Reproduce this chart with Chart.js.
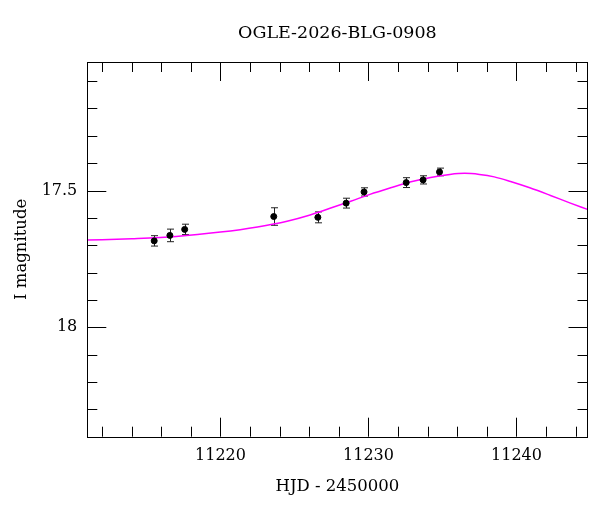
<!DOCTYPE html>
<html>
<head>
<meta charset="utf-8">
<script src="https://cdn.jsdelivr.net/npm/chart.js@4.4.1/dist/chart.umd.min.js"></script>
<style>
html, body { margin: 0; padding: 0; background: #fff; }
#wrap { width: 600px; height: 512px; }
</style>
</head>
<body>
<div id="wrap"><canvas id="lightcurve"></canvas></div>
<script>
// photometry (HJD - 2450000, I mag, 1-sigma error)
var hjd    = [11215.52, 11216.58, 11217.58, 11223.60, 11226.58, 11228.49, 11229.70, 11232.55, 11233.69, 11234.80];
var mag    = [17.684, 17.664, 17.642, 17.595, 17.598, 17.546, 17.505, 17.471, 17.461, 17.432];
var magErr = [0.019, 0.023, 0.019, 0.032, 0.020, 0.018, 0.015, 0.018, 0.015, 0.014];

// model curve, sampled by eye from the magenta line
var modelHjd = [11211.0, 11214.0, 11217.0, 11220.0, 11222.5, 11224.5, 11226.0, 11227.4, 11228.8,
                11230.1, 11231.5, 11232.8, 11234.2, 11235.5, 11236.5, 11237.5, 11238.5, 11239.6,
                11240.9, 11242.3, 11243.6, 11244.8];
var modelMag = [17.681, 17.676, 17.668, 17.652, 17.633, 17.612, 17.590, 17.565, 17.539,
                17.514, 17.490, 17.469, 17.452, 17.441, 17.437, 17.441, 17.450, 17.467,
                17.490, 17.518, 17.545, 17.569];

var xMajor = [11220, 11230, 11240];
var yMajor = [17.5, 18];
var xMinor = [];
for (var v = 11212; v <= 11244; v += 2) xMinor.push(v);
var yMinor = [];
for (var m = 17.1; m < 18.35; m += 0.1) yMinor.push(Math.round(m * 10) / 10);

var serif = "'DejaVu Serif', serif";

function isMajor(list, val) {
    for (var i = 0; i < list.length; i++) {
        if (Math.abs(list[i] - val) < 1e-6) return true;
    }
    return false;
}

var points = [];
for (var i = 0; i < hjd.length; i++) points.push({x: hjd[i], y: mag[i]});
var model = [];
for (var j = 0; j < modelHjd.length; j++) model.push({x: modelHjd[j], y: modelMag[j]});

var errorBars = {
    id: 'errorBars',
    beforeDatasetsDraw: function (chart) {
        var ctx = chart.ctx, x = chart.scales.x, y = chart.scales.y;
        ctx.save();
        ctx.strokeStyle = '#222';
        ctx.lineWidth = 1;
        ctx.beginPath();
        for (var i = 0; i < hjd.length; i++) {
            var px = Math.round(x.getPixelForValue(hjd[i])) + 0.5;
            var top = y.getPixelForValue(mag[i] - magErr[i]);
            var bot = y.getPixelForValue(mag[i] + magErr[i]);
            ctx.moveTo(px, top); ctx.lineTo(px, bot);
            ctx.moveTo(px - 3.5, top); ctx.lineTo(px + 3.5, top);
            ctx.moveTo(px - 3.5, bot); ctx.lineTo(px + 3.5, bot);
        }
        ctx.stroke();
        ctx.restore();
    }
};

var frameTicks = {
    id: 'frameTicks',
    afterDraw: function (chart) {
        var ctx = chart.ctx, a = chart.chartArea, x = chart.scales.x, y = chart.scales.y;
        ctx.save();
        ctx.strokeStyle = '#000';
        ctx.lineWidth = 1;
        ctx.strokeRect(Math.round(a.left) + 0.5, Math.round(a.top) + 0.5,
                       Math.round(a.right - a.left), Math.round(a.bottom - a.top));
        ctx.beginPath();
        x.ticks.forEach(function (t) {
            var px = Math.round(x.getPixelForValue(t.value)) + 0.5;
            var len = isMajor(xMajor, t.value) ? 19 : 10;
            ctx.moveTo(px, a.bottom); ctx.lineTo(px, a.bottom - len);
            ctx.moveTo(px, a.top); ctx.lineTo(px, a.top + len);
        });
        y.ticks.forEach(function (t) {
            var py = Math.round(y.getPixelForValue(t.value)) + 0.5;
            var len = isMajor(yMajor, t.value) ? 19 : 10;
            ctx.moveTo(a.left, py); ctx.lineTo(a.left + len, py);
            ctx.moveTo(a.right, py); ctx.lineTo(a.right - len, py);
        });
        ctx.stroke();
        ctx.restore();
    }
};

var config = {
    type: 'scatter',
    data: {
        datasets: [{
            label: 'OGLE I',
            data: points,
            backgroundColor: '#000',
            borderColor: '#000',
            pointRadius: 3,
            pointHoverRadius: 3
        }, {
            label: 'model',
            type: 'line',
            data: model,
            borderColor: '#ff00ff',
            borderWidth: 1.5,
            pointRadius: 0,
            cubicInterpolationMode: 'monotone',
            fill: false
        }]
    },
    options: {
        responsive: true,
        maintainAspectRatio: false,
        animation: false,
        layout: { padding: { left: 0, right: 12.5, top: 0, bottom: 0 } },
        plugins: {
            legend: { display: false },
            tooltip: { enabled: false },
            title: {
                display: true,
                fullSize: false,
                text: 'OGLE-2026-BLG-0908',
                color: '#000',
                font: { family: serif, size: 17.5, weight: 'normal', lineHeight: 1.2 },
                padding: { top: 23, bottom: 18 }
            }
        },
        scales: {
            x: {
                type: 'linear',
                min: 11211,
                max: 11244.8,
                afterBuildTicks: function (s) {
                    s.ticks = xMinor.map(function (v) { return {value: v}; });
                },
                afterFit: function (s) { s.height = 75.3; },
                grid: { display: false, drawTicks: false },
                border: { display: false },
                ticks: {
                    autoSkip: false,
                    maxRotation: 0,
                    padding: 10,
                    color: '#000',
                    font: { family: serif, size: 16 },
                    callback: function (val) { return isMajor(xMajor, val) ? String(val) : ''; }
                },
                title: {
                    display: true,
                    text: 'HJD - 2450000',
                    color: '#000',
                    font: { family: serif, size: 16.5 },
                    padding: { top: 0, bottom: 15 }
                }
            },
            y: {
                type: 'linear',
                reverse: true,
                min: 17.03,
                max: 18.4,
                afterBuildTicks: function (s) {
                    s.ticks = yMinor.map(function (v) { return {value: v}; });
                },
                afterFit: function (s) { s.width = 87.3; },
                grid: { display: false, drawTicks: false },
                border: { display: false },
                ticks: {
                    autoSkip: false,
                    padding: 10,
                    color: '#000',
                    font: { family: serif, size: 16 },
                    callback: function (val) { return isMajor(yMajor, val) ? String(val) : ''; }
                },
                title: {
                    display: true,
                    text: 'I magnitude',
                    color: '#000',
                    font: { family: serif, size: 16.5 },
                    padding: { top: 12, bottom: 0 }
                }
            }
        }
    },
    plugins: [errorBars, frameTicks]
};

var canvas = document.getElementById('lightcurve');
window.lightCurve = new Chart(canvas, config);
</script>
</body>
</html>
